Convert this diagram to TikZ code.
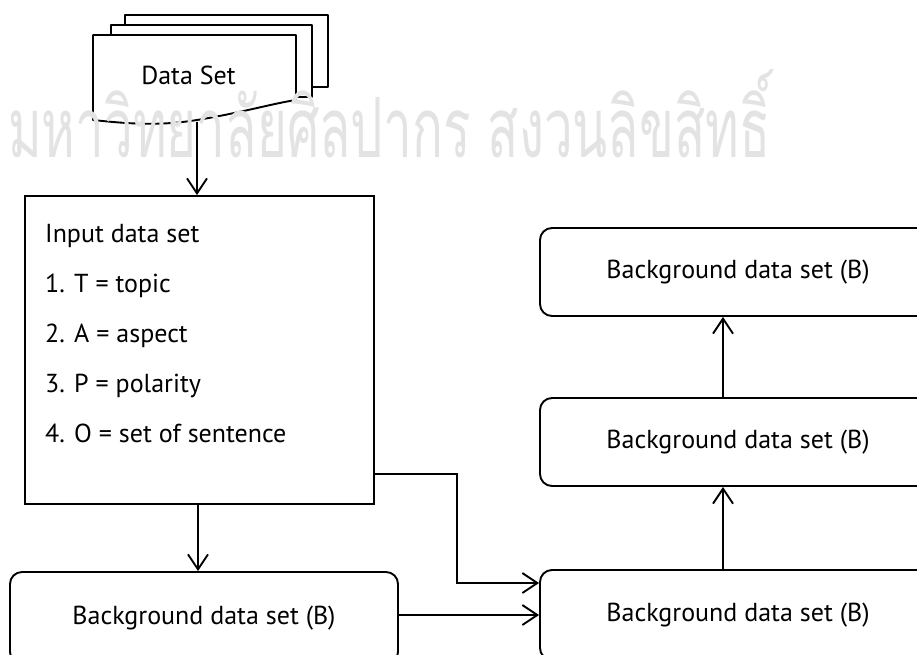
\documentclass[tikz,border=0pt]{standalone}
\usepackage{fontspec}
\setmainfont{PT Sans}
\newfontfamily\thaifont[Script=Thai]{Loma}
\usetikzlibrary{arrows.meta}

\tikzset{
  lbl/.style={font=\fontsize{26}{30}\selectfont, inner sep=0pt},
  conn/.style={line width=1.9pt, -{Straight Barb[length=15pt,width=20pt,line width=1.9pt]}},
  sheet/.style={draw, fill=white, line width=1.9pt, line join=round},
  bgbox/.style={draw, line width=1.9pt, rounded corners=12pt, minimum width=396pt,
    minimum height=88pt, inner sep=0pt, font=\fontsize{26}{30}\selectfont},
}

\begin{document}
\begin{tikzpicture}[x=1pt,y=-1pt]
\useasboundingbox (0,0) rectangle (917,654);
\clip (0,0) rectangle (917,654);

% stacked document symbol
\path[sheet] (125,15) rectangle (328,87);
\path[sheet] (111,25) rectangle (312,97);
\path[sheet] (93,35) -- (296,35) -- (296,100)
  .. controls (275,103) and (240,113) .. (197,120)
  .. controls (160,126) and (130,124) .. (93,120) -- cycle;

% faint watermark across the upper part of the page
\node[anchor=base west, inner sep=0pt, text=black!11] (wm) at (8,157)
  {\resizebox{762pt}{88pt}{\thaifont มหาวิทยาลัยศิลปากร สงวนลิขสิทธิ์}};

\node[lbl] (ds) at (188.5,75) {Data Set};
\coordinate (dsbot) at (197,122);

% input box
\node[draw, line width=1.9pt, minimum width=349pt, minimum height=308pt, inner sep=0pt]
  (inp) at (199.5,350) {};
\node[lbl, anchor=base west] (t0) at (45,242) {Input data set};
\node[lbl, anchor=base west] (t1) at (45,292) {1. T = topic};
\node[lbl, anchor=base west] (t2) at (45,342) {2. A = aspect};
\node[lbl, anchor=base west] (t3) at (45,392) {3. P = polarity};
\node[lbl, anchor=base west] (t4) at (45,442) {4. O = set of sentence};

% background data set boxes
\node[bgbox] (r1) at (738,272) {Background data set (B)};
\node[bgbox] (r2) at (738,442) {Background data set (B)};
\node[bgbox, minimum height=90pt] (r3) at (738,615) {Background data set (B)};
\node[bgbox, minimum width=388pt, minimum height=92pt] (l1) at (204,618) {Background data set (B)};

% connectors
\coordinate (j1) at (457,474);
\coordinate (j2) at (457,583);
\coordinate (ux) at (723,0);
\draw[conn] (dsbot) -- (dsbot |- inp.north);
\draw[conn] (inp.south -| 198,0) -- (l1.north -| 198,0);
\draw[conn] (l1.east |- 0,615) -- (r3.west |- 0,615);
\draw[conn] (inp.east |- j1) -- (j1) -- (j2) -- (r3.west |- j2);
\draw[conn] (r3.north -| ux) -- (r2.south -| ux);
\draw[conn] (r2.north -| ux) -- (r1.south -| ux);
\end{tikzpicture}
\end{document}
